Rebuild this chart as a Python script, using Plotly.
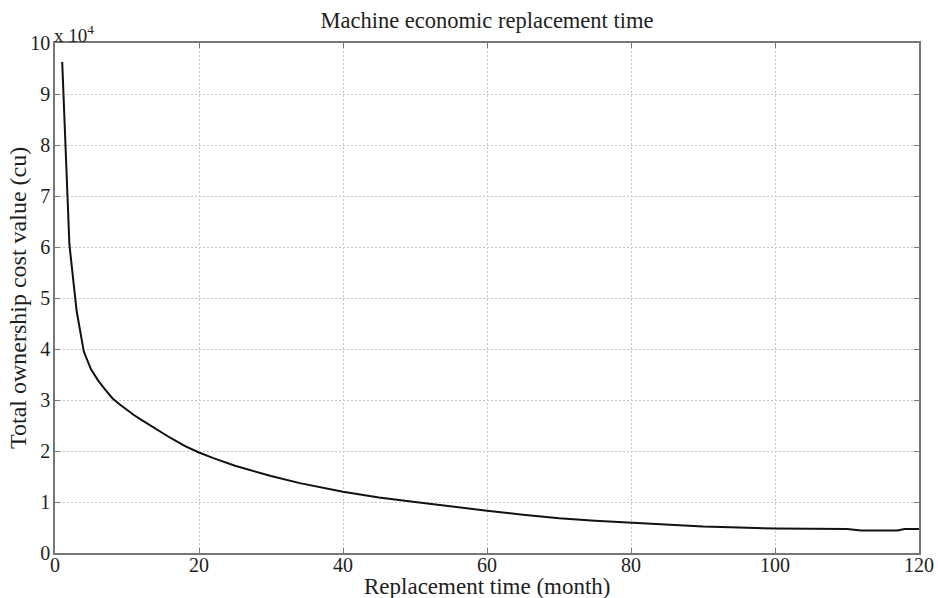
import plotly.graph_objects as go

# Data (total ownership cost, currency units)
months = [1, 2, 3, 4, 5, 6, 7, 8, 9, 10, 11, 12, 14, 16, 18, 20, 22, 25, 30, 34, 40,
          45, 50, 55, 60, 65, 70, 75, 80, 85, 90, 95, 100, 105, 110, 112, 117, 118, 120]
cost = [96300, 60500, 47500, 39500, 36000, 33800, 32000, 30300, 29100, 28000, 27000,
        26100, 24300, 22600, 21000, 19700, 18600, 17100, 15100, 13700, 12000,
        10900, 10000, 9100, 8300, 7500, 6800, 6300, 5900, 5500, 5200, 5000, 4800,
        4750, 4700, 4400, 4400, 4700, 4700]

x_ticks = [0, 20, 40, 60, 80, 100, 120]
y_ticks = [0, 1, 2, 3, 4, 5, 6, 7, 8, 9, 10]
scale = 1e4

FONT = "Liberation Serif"
TXT = "#1e1e1e"

fig = go.Figure()
fig.add_trace(go.Scatter(
    x=months, y=[c / scale for c in cost], mode="lines",
    line=dict(color="#111111", width=2), showlegend=False))

axis_common = dict(
    showline=True, linecolor="#777777", linewidth=1.5, mirror="ticks",
    ticks="inside", ticklen=5, tickcolor="#777777",
    showgrid=True, gridcolor="#c6c6c6", griddash="2px,2px", gridwidth=1,
    zeroline=False, tickfont=dict(family=FONT, size=20, color=TXT),
    automargin=False,
)

fig.update_layout(
    width=938, height=598,
    margin=dict(l=55, r=19, t=43, b=45),
    paper_bgcolor="white", plot_bgcolor="white",
    title=dict(text="Machine economic replacement time", x=0.5, xanchor="center",
               xref="paper", y=0.966, yanchor="middle",
               font=dict(family=FONT, size=22.5, color=TXT)),
    xaxis=dict(range=[0, 120], tickvals=x_ticks, ticktext=[str(v) for v in x_ticks],
               ticklabelstandoff=-7, **axis_common),
    yaxis=dict(range=[0, 10], tickvals=y_ticks, ticktext=[str(v) for v in y_ticks],
               ticklabelstandoff=-1, **axis_common),
    annotations=[
        dict(text="x 10<sup>4</sup>", xref="paper", yref="paper", x=0, y=1,
             xanchor="left", yanchor="bottom", xshift=-3, yshift=-5, showarrow=False,
             font=dict(family=FONT, size=19, color=TXT)),
        dict(text="Replacement time (month)", xref="paper", yref="paper", x=0.5, y=0,
             xanchor="center", yanchor="top", yshift=-19, showarrow=False,
             font=dict(family=FONT, size=23, color=TXT)),
        dict(text="Total ownership cost value (cu)", xref="paper", yref="paper",
             x=0, y=0.5, xanchor="right", yanchor="middle", xshift=-22,
             textangle=-90, showarrow=False,
             font=dict(family=FONT, size=24, color=TXT)),
    ],
)

fig.write_html("out.html", config={"displayModeBar": False},
               post_script="document.body.style.margin='0';")
